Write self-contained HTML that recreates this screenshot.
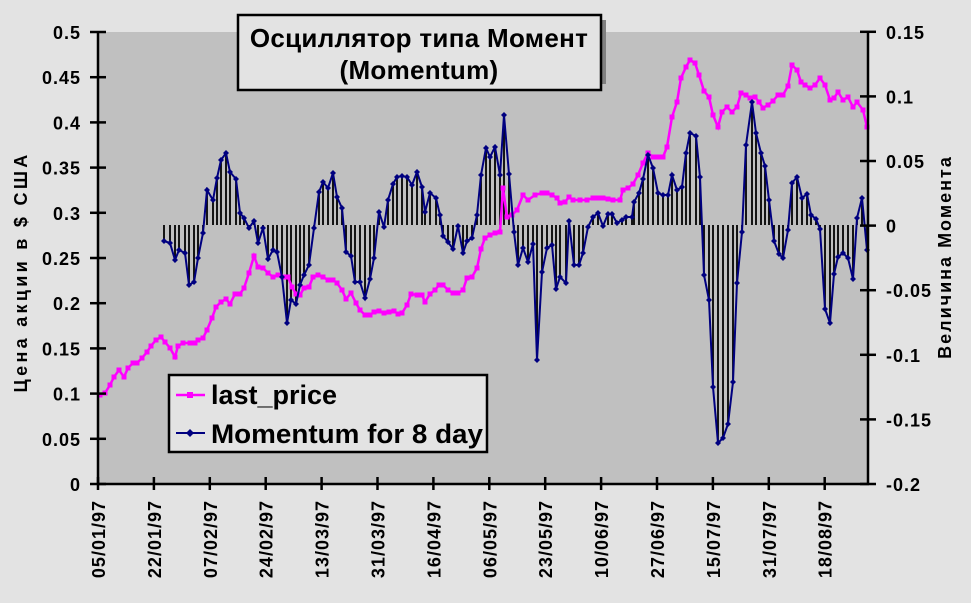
<!DOCTYPE html>
<html><head><meta charset="utf-8"><style>
html,body{margin:0;padding:0;background:#e3e3e3}
svg{display:block}
text{font-family:"Liberation Sans","DejaVu Sans",sans-serif;font-weight:bold;fill:#000}
</style></head><body>
<svg id="s" width="971" height="603" viewBox="0 0 971 603" xmlns="http://www.w3.org/2000/svg">
<rect x="0" y="0" width="971" height="603" fill="#e3e3e3"/>
<rect x="98" y="32" width="770" height="452" fill="#c0c0c0"/>
<g id="hatch" stroke="#000" stroke-width="1.8"></g>
<polyline id="pink" fill="none" stroke="#ff00ff" stroke-width="2.5"/>
<g id="pinkm" fill="#ff00ff"></g>
<polyline id="blue" fill="none" stroke="#000080" stroke-width="2"/>
<g id="bluem" fill="#000080"></g>
<g stroke="#000" stroke-width="2.5" fill="none">
<line x1="98" y1="32" x2="98" y2="485"/>
<line x1="868" y1="32" x2="868" y2="485"/>
<line x1="97" y1="484" x2="869" y2="484"/>
</g>
<g id="ticks" stroke="#000" stroke-width="2.5"></g>
<g id="labels" font-size="18" letter-spacing="1"></g>
<text transform="translate(27,272) rotate(-90)" text-anchor="middle" font-size="18" letter-spacing="3.3">Цена акции в $ США</text>
<text transform="translate(951,257) rotate(-90)" text-anchor="middle" font-size="18" letter-spacing="2">Величина Момента</text>
<rect x="243" y="20" width="363" height="64" fill="#808080"/>
<rect x="238" y="15" width="363" height="75" fill="#e3e3e3" stroke="#000" stroke-width="2.5"/>
<text x="419" y="47" text-anchor="middle" font-size="26" letter-spacing="0.3">Осциллятор типа Момент</text>
<text x="419" y="79" text-anchor="middle" font-size="26" letter-spacing="0.3">(Momentum)</text>
<rect x="169" y="375" width="318" height="77" fill="#e3e3e3" stroke="#000" stroke-width="2.5"/>
<line x1="176" y1="395" x2="205" y2="395" stroke="#ff00ff" stroke-width="2.5"/>
<rect x="187" y="392" width="6" height="6" fill="#ff00ff"/>
<text x="211" y="404" font-size="27">last_price</text>
<line x1="176" y1="433" x2="205" y2="433" stroke="#000080" stroke-width="2"/>
<path d="M190 429 L194 433 L190 437 L186 433Z" fill="#000080"/>
<text x="211" y="443" font-size="27" textLength="272" lengthAdjust="spacingAndGlyphs">Momentum for 8 day</text>
</svg>
<script>
var P=[[100,395],[105,393],[110,385],[114,377],[119,370],[124,377],[128,368],[133,363],[137,363],[142,358],[147,352],[151,346],[156,340],[161,337],[165,342],[170,348],[175,357],[178,346],[183,343],[190,343],[195,343],[198,340],[203,338],[207,330],[212,318],[216,307],[221,302],[226,299],[230,304],[235,294],[240,294],[244,288],[249,273],[254,256],[258,267],[263,268],[268,273],[273,277],[278,275],[283,277],[288,277],[292,287],[296,294],[300,295],[304,288],[309,287],[313,277],[318,275],[323,277],[328,280],[333,280],[337,283],[342,290],[346,299],[351,293],[356,303],[360,310],[365,315],[370,315],[374,312],[379,311],[384,313],[389,312],[394,311],[398,314],[402,313],[407,305],[411,294],[417,295],[422,295],[425,302],[430,294],[435,290],[439,285],[443,285],[448,290],[453,293],[458,293],[463,290],[467,278],[472,277],[477,268],[481,249],[485,238],[490,235],[495,233],[500,232],[503,188],[507,217],[512,215],[517,210],[523,195],[528,200],[535,195],[542,193],[547,193],[552,195],[557,198],[560,203],[565,202],[569,197],[573,200],[580,200],[587,200],[593,198],[598,198],[603,198],[608,199],[613,200],[620,200],[623,190],[628,188],[633,184],[638,175],[643,163],[648,153],[653,157],[658,157],[663,157],[667,147],[672,117],[677,102],[681,78],[686,67],[690,60],[695,63],[699,75],[704,91],[709,97],[713,115],[718,127],[722,112],[727,107],[732,112],[737,107],[741,93],[746,95],[750,98],[755,97],[759,102],[763,108],[768,105],[773,101],[778,95],[783,95],[788,86],[792,65],[797,70],[801,82],[805,85],[810,88],[815,85],[820,78],[825,85],[830,100],[834,98],[838,92],[843,100],[848,97],[853,107],[857,102],[863,110],[867,127]];
var B=[[164,241],[170,243],[175,260],[179,250],[185,253],[189,285],[194,282],[198,258],[203,233],[207,190],[213,200],[217,178],[221,160],[226,153],[230,172],[236,179],[240,213],[244,218],[249,228],[254,221],[258,243],[263,228],[268,259],[273,250],[277,252],[282,277],[287,323],[291,300],[296,304],[300,285],[304,275],[309,265],[314,228],[319,192],[323,182],[328,188],[333,173],[337,197],[342,208],[346,252],[351,256],[355,282],[360,282],[365,298],[370,279],[374,258],[379,212],[384,227],[388,200],[393,184],[397,177],[402,176],[407,177],[412,185],[417,172],[422,187],[425,212],[430,193],[436,198],[440,215],[443,236],[448,242],[453,249],[458,226],[463,253],[467,241],[472,238],[477,215],[481,175],[486,148],[490,157],[495,147],[500,175],[504,115],[509,174],[514,232],[518,265],[523,248],[528,262],[533,244],[537,360],[542,272],[547,248],[552,245],[556,289],[560,277],[566,283],[569,221],[574,265],[579,265],[583,253],[588,227],[593,217],[598,213],[603,226],[608,214],[612,214],[617,223],[622,220],[626,217],[632,217],[634,202],[639,193],[643,179],[648,155],[653,168],[658,193],[663,195],[668,195],[672,175],[677,190],[682,187],[686,153],[690,133],[696,136],[700,177],[704,275],[709,300],[713,387],[718,443],[723,438],[728,424],[733,382],[737,283],[742,232],[746,145],[752,102],[756,133],[761,153],[765,166],[769,200],[774,241],[779,254],[783,258],[788,230],[792,183],[797,177],[802,198],[807,194],[811,215],[816,219],[820,229],[825,309],[830,323],[834,274],[838,257],[843,253],[848,258],[853,279],[857,218],[862,198],[867,250]];
var NS="http://www.w3.org/2000/svg";
function el(t,a,p){var e=document.createElementNS(NS,t);for(var k in a)e.setAttribute(k,a[k]);p.appendChild(e);return e;}
document.getElementById('pink').setAttribute('points',P.map(function(p){return p.join(',')}).join(' '));
document.getElementById('blue').setAttribute('points',B.map(function(p){return p.join(',')}).join(' '));
var pm=document.getElementById('pinkm'),bm=document.getElementById('bluem'),h=document.getElementById('hatch');
P.forEach(function(p){el('rect',{x:p[0]-2.5,y:p[1]-2.5,width:5,height:5},pm);});
var Z=225;
B.forEach(function(p){el('path',{d:'M'+p[0]+' '+(p[1]-3)+'L'+(p[0]+3)+' '+p[1]+'L'+p[0]+' '+(p[1]+3)+'L'+(p[0]-3)+' '+p[1]+'Z'},bm);
 el('line',{x1:p[0],y1:Z,x2:p[0],y2:p[1]},h);});
var tk=document.getElementById('ticks'),lb=document.getElementById('labels');
var L=['0','0.05','0.1','0.15','0.2','0.25','0.3','0.35','0.4','0.45','0.5'];
for(var i=0;i<=10;i++){var y=484-i*45.2;el('line',{x1:90,y1:y,x2:106,y2:y},tk);
 var t=el('text',{x:81,y:y+7,'text-anchor':'end'},lb);t.textContent=L[i];}
var R=['-0.2','-0.15','-0.1','-0.05','0','0.05','0.1','0.15'];
for(var i=0;i<=7;i++){var y=484-i*64.6;el('line',{x1:860,y1:y,x2:876,y2:y},tk);
 var t=el('text',{x:886,y:y+7},lb);t.textContent=R[i];}
var D=['05/01/97','22/01/97','07/02/97','24/02/97','13/03/97','31/03/97','16/04/97','06/05/97','23/05/97','10/06/97','27/06/97','15/07/97','31/07/97','18/08/97'];
for(var i=0;i<D.length;i++){var x=98+i*55.9;el('line',{x1:x,y1:477,x2:x,y2:490},tk);
 var t=el('text',{transform:'translate('+(x+7)+',500) rotate(-90)','text-anchor':'end'},lb);t.textContent=D[i];}
</script>
</body></html>
